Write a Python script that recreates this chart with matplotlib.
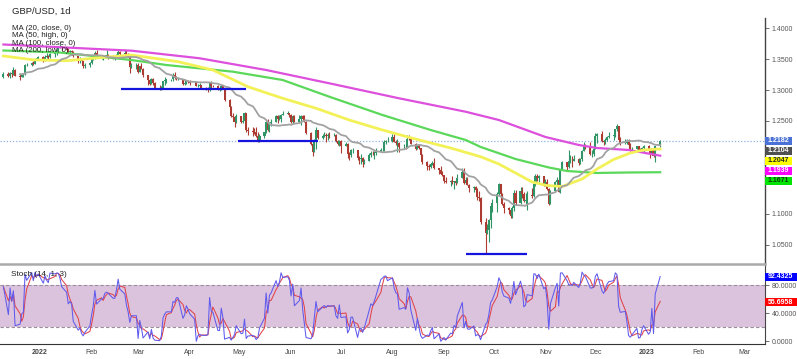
import numpy as np
import pandas as pd
import matplotlib
matplotlib.use('Agg')
import matplotlib.pyplot as plt
import matplotlib.dates as mdates
from matplotlib.patches import Rectangle

plt.rcParams['font.family'] = ['Liberation Sans', 'DejaVu Sans']

# ---------------- data : daily GBP/USD, prices in pips (1e-4) ----------------
first_session = '2021-12-10'

opens_pips = [
    13215,13265,13235,13275,13255,13325,13235,13220,13250,13255,13405,13405,13445,13430,13495,13515,
    13530,13485,13535,13545,13530,13590,13595,13645,13710,13715,13675,13650,13615,13625,13615,13550,13485,13495,13470,13390,13410,
    13445,13505,13540,13600,13530,13535,13535,13555,13560,13555,13535,13535,13570,13615,13590,13595,13570,13555,13375,13410,
    13410,13290,13385,13345,13240,13160,13105,13180,13110,13035,13005,13040,13145,13170,13180,13180,13245,13195,13185,13185,13095,13110,13150,
    13135,13115,13115,13070,13070,13075,13035,13025,13000,13125,13065,13060,13005,13005,13065,13035,12835,12730,12575,12565,12480,
    12575,12490,12495,12625,12355,12335,12330,12315,12255,12200,12265,12315,12490,12350,12475,12490,12575,12530,12530,12605,12620,12625,
    12600,12485,12585,12490,12525,12585,12530,12490,12310,12130,12005,12185,12350,12230,12265,12275,12255,12275,12270,12270,12175,12120,
    12180,12095,12125,11960,11955,12030,12030,11895,11890,11905,11830,11860,11955,11990,11980,11990,12005,12030,12035,12155,12170,
    12180,12245,12165,12145,12150,12075,12085,12075,12215,12205,12135,12050,12100,12060,11945,11830,11765,11760,11800,11825,11735,11715,11640,
    11620,11535,11510,11525,11510,11530,11500,11585,11680,11500,11545,11470,11420,11435,11380,11265,11255,10860,10685,10730,10890,11120,
    11170,11320,11475,11325,11160,11090,11055,10970,11100,11330,11175,11360,11320,11205,11220,11305,11285,11475,11615,11570,11615,
    11465,11510,11395,11160,11375,11510,11545,11355,11705,11840,11760,11860,11860,11850,11890,11825,11885,12020,12110,12095,11960,11960,
    12055,12265,12290,12180,12160,12200,12240,12265,12280,12365,12420,12185,12140,12150,12155,12115,12040,12050,12090,12025,12020,12070,
    12095,12040,11970,12060,11935,12090,
]
highs_pips = [
    13285,13300,13290,13300,13375,13340,13265,13275,13275,13415,13440,13450,13470,13500,13540,13545,
    13550,13560,13600,13565,13600,13610,13655,13720,13750,13720,13690,13680,13650,13645,13625,13555,13530,13520,13475,13435,13450,
    13515,13575,13630,13645,13565,13560,13575,13645,13590,13570,13565,13590,13645,13640,13645,13645,13600,13575,13435,13445,
    13435,13395,13435,13355,13245,13185,13195,13190,13125,13085,13065,13155,13215,13185,13185,13275,13300,13225,13215,13185,13180,13160,13170,
    13165,13150,13145,13100,13110,13090,13055,13055,13130,13150,13085,13075,13035,13090,13090,13040,12860,12745,12625,12580,12615,
    12580,12545,12640,12635,12400,12405,12380,12405,12315,12290,12330,12500,12525,12485,12525,12590,12600,12600,12615,12665,12665,12635,
    12610,12600,12595,12600,12600,12600,12595,12500,12320,12160,12205,12405,12355,12285,12325,12300,12305,12325,12310,12295,12200,12190,
    12190,12165,12140,12000,12040,12060,12030,11935,11965,11920,11885,11975,12020,12015,12010,12065,12065,12065,12185,12200,12245,
    12295,12295,12190,12205,12160,12130,12110,12275,12275,12210,12145,12110,12130,12065,11960,11850,11800,11825,11855,11900,11745,11765,11690,
    11630,11595,11550,11615,11535,11565,11650,11740,11740,11590,11590,11475,11445,11450,11410,11365,11275,10935,10835,10915,11125,11235,
    11355,11495,11480,11340,11190,11110,11095,11120,11380,11380,11440,11435,11355,11335,11375,11410,11495,11645,11640,11630,11615,
    11565,11565,11410,11390,11530,11590,11565,11720,11855,11840,12030,11955,11935,11950,11895,11905,12030,12155,12125,12155,12030,12120,
    12310,12310,12345,12195,12220,12265,12320,12285,12375,12445,12425,12240,12215,12205,12210,12140,12075,12095,12095,12065,12075,12110,
    12105,12055,12070,12070,12100,12190,
]
lows_pips = [
    13195,13210,13200,13220,13250,13225,13170,13205,13215,13245,13385,13395,13410,13415,13480,13495,
    13460,13470,13520,13490,13520,13530,13575,13630,13680,13655,13635,13595,13590,13595,13535,13435,13440,13440,13360,13360,13380,
    13430,13490,13500,13515,13510,13490,13520,13535,13505,13500,13490,13515,13565,13570,13565,13535,13540,13275,13355,13345,
    13275,13285,13335,13220,13085,13085,13100,13090,13025,13000,12995,13030,13085,13120,13140,13155,13185,13170,13160,13085,13085,13105,13115,
    13090,13100,13070,13050,13055,13010,13000,12975,12980,13040,13045,13000,12985,12995,13015,12825,12705,12565,12530,12410,12465,
    12465,12460,12460,12325,12275,12260,12285,12235,12165,12155,12230,12310,12345,12330,12420,12480,12465,12510,12480,12590,12610,12570,
    12465,12460,12480,12480,12430,12500,12480,12290,12110,11935,11995,12040,12210,12205,12240,12160,12195,12225,12250,12160,12105,12090,
    11975,12090,11900,11875,11925,11975,11870,11805,11810,11760,11805,11850,11925,11950,11890,11955,12000,12015,12020,12120,12155,
    12165,12155,12105,12005,12005,12060,12055,12065,12195,12125,12030,12040,12040,11915,11810,11715,11715,11745,11790,11725,11650,11640,11605,
    11500,11500,11445,11480,11405,11460,11500,11580,11475,11480,11460,11350,11355,11375,11215,11210,10840,10350,10665,10540,10765,11025,
    11025,11305,11250,11145,11005,11000,10925,10925,11050,11145,11150,11255,11195,11165,11060,11255,11270,11455,11535,11520,11450,
    11445,11380,11145,11150,11365,11465,11345,11340,11705,11710,11735,11825,11760,11845,11780,11810,11860,12015,12050,11945,11925,11930,
    12045,12145,12160,12105,12125,12175,12230,12200,12235,12335,12165,12115,12125,12125,12085,12015,12010,12040,12005,11995,12010,12000,
    12025,11900,11950,11920,11840,12085,
]
closes_pips = [
    13265,13235,13275,13255,13325,13235,13220,13250,13255,13405,13405,13445,13430,13495,13515,13530,
    13485,13535,13545,13530,13590,13595,13645,13710,13715,13675,13650,13615,13625,13615,13550,13485,13495,13470,13390,13410,13445,
    13505,13540,13600,13530,13535,13535,13555,13560,13555,13535,13535,13570,13615,13590,13595,13570,13555,13375,13410,13410,
    13290,13385,13345,13240,13160,13105,13180,13110,13035,13005,13040,13145,13170,13180,13180,13245,13195,13185,13185,13095,13110,13150,13135,
    13115,13115,13070,13070,13075,13035,13025,13000,13125,13065,13060,13005,13005,13065,13035,12835,12730,12575,12565,12480,12575,
    12490,12495,12625,12355,12335,12330,12315,12255,12200,12265,12315,12490,12350,12475,12490,12575,12530,12530,12605,12620,12625,12600,
    12485,12585,12490,12525,12585,12530,12490,12310,12130,12005,12185,12350,12230,12265,12275,12255,12275,12270,12270,12175,12120,12180,
    12095,12125,11960,11955,12030,12030,11895,11890,11905,11830,11860,11955,11990,11980,11990,12005,12030,12035,12155,12170,12180,
    12245,12165,12145,12150,12075,12085,12075,12215,12205,12135,12050,12100,12060,11945,11830,11765,11760,11800,11825,11735,11715,11640,11620,
    11535,11510,11525,11510,11530,11500,11585,11680,11500,11545,11470,11420,11435,11380,11265,11255,10860,10685,10730,10890,11120,11170,
    11320,11475,11325,11160,11090,11055,10970,11100,11330,11175,11360,11320,11205,11220,11305,11285,11475,11615,11570,11615,11465,
    11510,11395,11160,11375,11510,11545,11355,11705,11840,11760,11860,11860,11850,11890,11825,11885,12020,12110,12095,11960,11960,12055,
    12265,12290,12180,12160,12200,12240,12265,12280,12365,12420,12185,12140,12150,12155,12115,12040,12050,12090,12025,12020,12070,12095,
    12040,11970,12060,11935,12090,12182,
]

# moving averages (MA 50 high, MA 100 close, MA 200 low)
ma50_dates = ['2021-12-10','2021-12-28','2022-01-17','2022-02-04','2022-02-25','2022-03-25','2022-04-15',
              '2022-05-06','2022-05-27','2022-06-16','2022-07-06','2022-07-26','2022-08-15','2022-09-05',
              '2022-09-23','2022-10-04','2022-10-14','2022-10-24','2022-11-02','2022-11-11','2022-11-23',
              '2022-12-02','2022-12-12','2022-12-22','2022-12-30','2023-01-09']
ma50_values = [1.3552,1.3490,1.3475,1.3520,1.3568,1.3460,1.3325,1.3055,1.2867,1.2706,1.2516,1.2354,1.2207,
               1.2063,1.1922,1.1804,1.1659,1.1513,1.1456,1.1440,1.1561,1.1723,1.1877,1.1982,1.2031,1.2047]
ma100_dates = ['2021-12-10','2022-01-13','2022-02-25','2022-03-18','2022-04-27','2022-05-27','2022-06-24',
               '2022-07-26','2022-08-24','2022-09-14','2022-09-23','2022-10-14','2022-11-03','2022-11-14',
               '2022-12-02','2022-12-21','2023-01-09']
ma100_values = [1.3641,1.3608,1.3487,1.3406,1.3298,1.3163,1.2893,1.2597,1.2354,1.2193,1.2080,1.1885,1.1748,
                1.1691,1.1659,1.1667,1.1671]
ma200_dates = ['2021-12-10','2022-02-04','2022-02-25','2022-04-07','2022-05-17','2022-06-24','2022-08-05',
               '2022-09-14','2022-10-04','2022-11-01','2022-11-21','2022-12-02','2022-12-21','2023-01-09']
ma200_values = [1.3738,1.3665,1.3638,1.3515,1.3325,1.3110,1.2867,1.2650,1.2516,1.2241,1.2112,1.2063,1.2031,1.1939]

# horizontal support lines
support_levels = [1.3013, 1.2181, 1.0353]
support_starts = ['2022-02-19', '2022-04-30', '2022-09-14']
support_ends = ['2022-05-05', '2022-06-17', '2022-10-21']

price_ticks = [1.05, 1.10, 1.25, 1.30, 1.35, 1.40]
stoch_ticks = [0, 40, 80]
legend_lines = ['MA (20, close, 0)', 'MA (50, high, 0)', 'MA (100, close, 0)', 'MA (200, low, 0)']
price_box_texts = ['1.2182', '1.2104', '1.2047', '1.1939', '1.1671']
price_box_colors = ['#4a72d6', '#4f4f4f', '#ffff00', '#ff00ff', '#00e400']
price_box_textcolors = ['white', 'white', '#222222', 'white', '#0b3d0b']
stoch_box_texts = ['92.4325', '55.6958']
stoch_box_colors = ['#0000ff', '#ff0000']

# ---------------- derived series ----------------
opens = np.array(opens_pips) / 1e4
highs = np.array(highs_pips) / 1e4
lows = np.array(lows_pips) / 1e4
closes = np.array(closes_pips) / 1e4
dates = pd.bdate_range(first_session, periods=len(closes))
x = mdates.date2num(dates)

ma20 = pd.Series(closes).rolling(20, min_periods=7).mean().values
hh = pd.Series(highs).rolling(14, min_periods=1).max()
ll = pd.Series(lows).rolling(14, min_periods=1).min()
stoch_k = (100 * (pd.Series(closes) - ll) / (hh - ll)).values
stoch_d = pd.Series(stoch_k).rolling(3, min_periods=1).mean().values

# ---------------- figure ----------------
W, H = 797, 359
fig = plt.figure(figsize=(W / 100, H / 100), dpi=100)
fig.patch.set_facecolor('white')

def frac(px_left, px_top, px_right, px_bottom):
    return [px_left / W, 1 - px_bottom / H, (px_right - px_left) / W, (px_bottom - px_top) / H]

ax = fig.add_axes(frac(0, 0, 765, 263))
ax2 = fig.add_axes(frac(0, 264, 765, 344), sharex=ax)

UP, DOWN = '#2f9466', '#ad3b31'
col = np.where(closes >= opens, UP, DOWN)
ax.vlines(x, lows, highs, colors=col, lw=0.8, zorder=2)
body = np.maximum(np.abs(closes - opens), 0.0004)
ax.bar(x, body, bottom=np.minimum(opens, closes), width=1.25, color=col, lw=0, zorder=3)

# moving averages
ax.plot(mdates.date2num(pd.to_datetime(ma200_dates)), ma200_values, color='#dd4fdd', lw=1.6, zorder=4)
ax.plot(mdates.date2num(pd.to_datetime(ma100_dates)), ma100_values, color='#5ad85a', lw=1.6, zorder=4)
ax.plot(mdates.date2num(pd.to_datetime(ma50_dates)), ma50_values, color='#f3f158', lw=2.0, zorder=4)
ax.plot(x, ma20, color='#a2a2a2', lw=1.3, zorder=5)

for lvl, s, e in zip(support_levels, support_starts, support_ends):
    ax.hlines(lvl, mdates.date2num(pd.Timestamp(s)), mdates.date2num(pd.Timestamp(e)),
              color='#1414dc', lw=1.6, zorder=6)

ax.axhline(closes[-1], color='#93b1e3', lw=0.9, ls=(0, (1, 1.5)), zorder=1)

xmin = mdates.date2num(pd.Timestamp('2022-01-01')) - 40 / 1.6627
xmax = mdates.date2num(pd.Timestamp('2022-01-01')) + 725 / 1.6627
ax.set_xlim(xmin, xmax)
ax.set_ylim(1.4 - (263 - 28.3) / 618, 1.4 + 28.3 / 618)

ax.yaxis.tick_right()
ax.set_yticks(price_ticks)
ax.yaxis.set_major_formatter(matplotlib.ticker.FormatStrFormatter('%.4f'))
ax.tick_params(axis='y', labelsize=5, colors='#555555', length=3, width=0.6, pad=2)
ax.tick_params(axis='x', bottom=False, labelbottom=False)
for s in ['top', 'left', 'bottom']:
    ax.spines[s].set_visible(False)
ax.spines['right'].set_color('#444444')
ax.spines['right'].set_linewidth(1.0)
ax.spines['right'].set_bounds(ax.get_ylim()[0], 1.4 - (18 - 28.3) / 618)

# stochastic panel
ax2.axhspan(20, 80, color='#dcc3dd', lw=0, zorder=0)
ax2.axhline(80, color='#9a8c9a', lw=0.8, ls=(0, (3, 2)), zorder=1)
ax2.axhline(20, color='#9a8c9a', lw=0.8, ls=(0, (3, 2)), zorder=1)
ax2.plot(x, stoch_k, color='#5f5aec', lw=0.75, zorder=3)
ax2.plot(x, stoch_d, color='#e0434a', lw=0.75, zorder=2)
ax2.set_ylim(-3.9, 110.4)
ax2.yaxis.tick_right()
ax2.set_yticks(stoch_ticks)
ax2.yaxis.set_major_formatter(matplotlib.ticker.FormatStrFormatter('%.4f'))
ax2.tick_params(axis='y', labelsize=5, colors='#555555', length=3, width=0.6, pad=2)
ax2.spines['left'].set_visible(False)
ax2.spines['top'].set_color('#aaaaaa')
ax2.spines['top'].set_linewidth(1.8)
ax2.spines['bottom'].set_color('#333333')
ax2.spines['right'].set_color('#444444')

ax2.xaxis.set_major_locator(mdates.MonthLocator())
def month_fmt(v, pos=None):
    d = mdates.num2date(v)
    return str(d.year) if d.month == 1 else d.strftime('%b')
ax2.xaxis.set_major_formatter(matplotlib.ticker.FuncFormatter(month_fmt))
ax2.tick_params(axis='x', labelsize=5, colors='#444444', length=0, pad=3.5)
fig.canvas.draw()
for lab in ax2.get_xticklabels():
    if lab.get_text().isdigit():
        lab.set_fontweight('bold')

# overlay in pixel coordinates for texts and value boxes
ov = fig.add_axes([0, 0, 1, 1], facecolor='none', zorder=10)
ov.set_xlim(0, W)
ov.set_ylim(H, 0)
ov.axis('off')

ov.text(12, 11.5, 'GBP/USD, 1d', fontsize=6.8, color='#222222', va='center', ha='left')
for i, t in enumerate(legend_lines):
    ov.text(12, 28 + 7.6 * i, t, fontsize=5.7, color='#222222', va='center', ha='left')
ov.text(11, 274, 'Stoch (14, 1, 3)', fontsize=5.9, color='#222222', va='center', ha='left')

def px_y(axis, value):
    return H - axis.transData.transform((xmin, value))[1]

prev = -1e9
for t, fc, tc in zip(price_box_texts, price_box_colors, price_box_textcolors):
    cy = max(px_y(ax, float(t)), prev + 10)
    prev = cy
    ov.add_patch(Rectangle((765, cy - 3.9), 27, 7.8, facecolor=fc, edgecolor='none'))
    ov.text(778.5, cy, t, fontsize=5, color=tc, ha='center', va='center', fontweight='bold')

for t, fc in zip(stoch_box_texts, stoch_box_colors):
    cy = px_y(ax2, float(t))
    ov.add_patch(Rectangle((765, cy - 4), 32, 8, facecolor=fc, edgecolor='none'))
    ov.text(780.5, cy, t, fontsize=5, color='white', ha='center', va='center', fontweight='bold')

fig.savefig('out.png', dpi=100, facecolor='white')
